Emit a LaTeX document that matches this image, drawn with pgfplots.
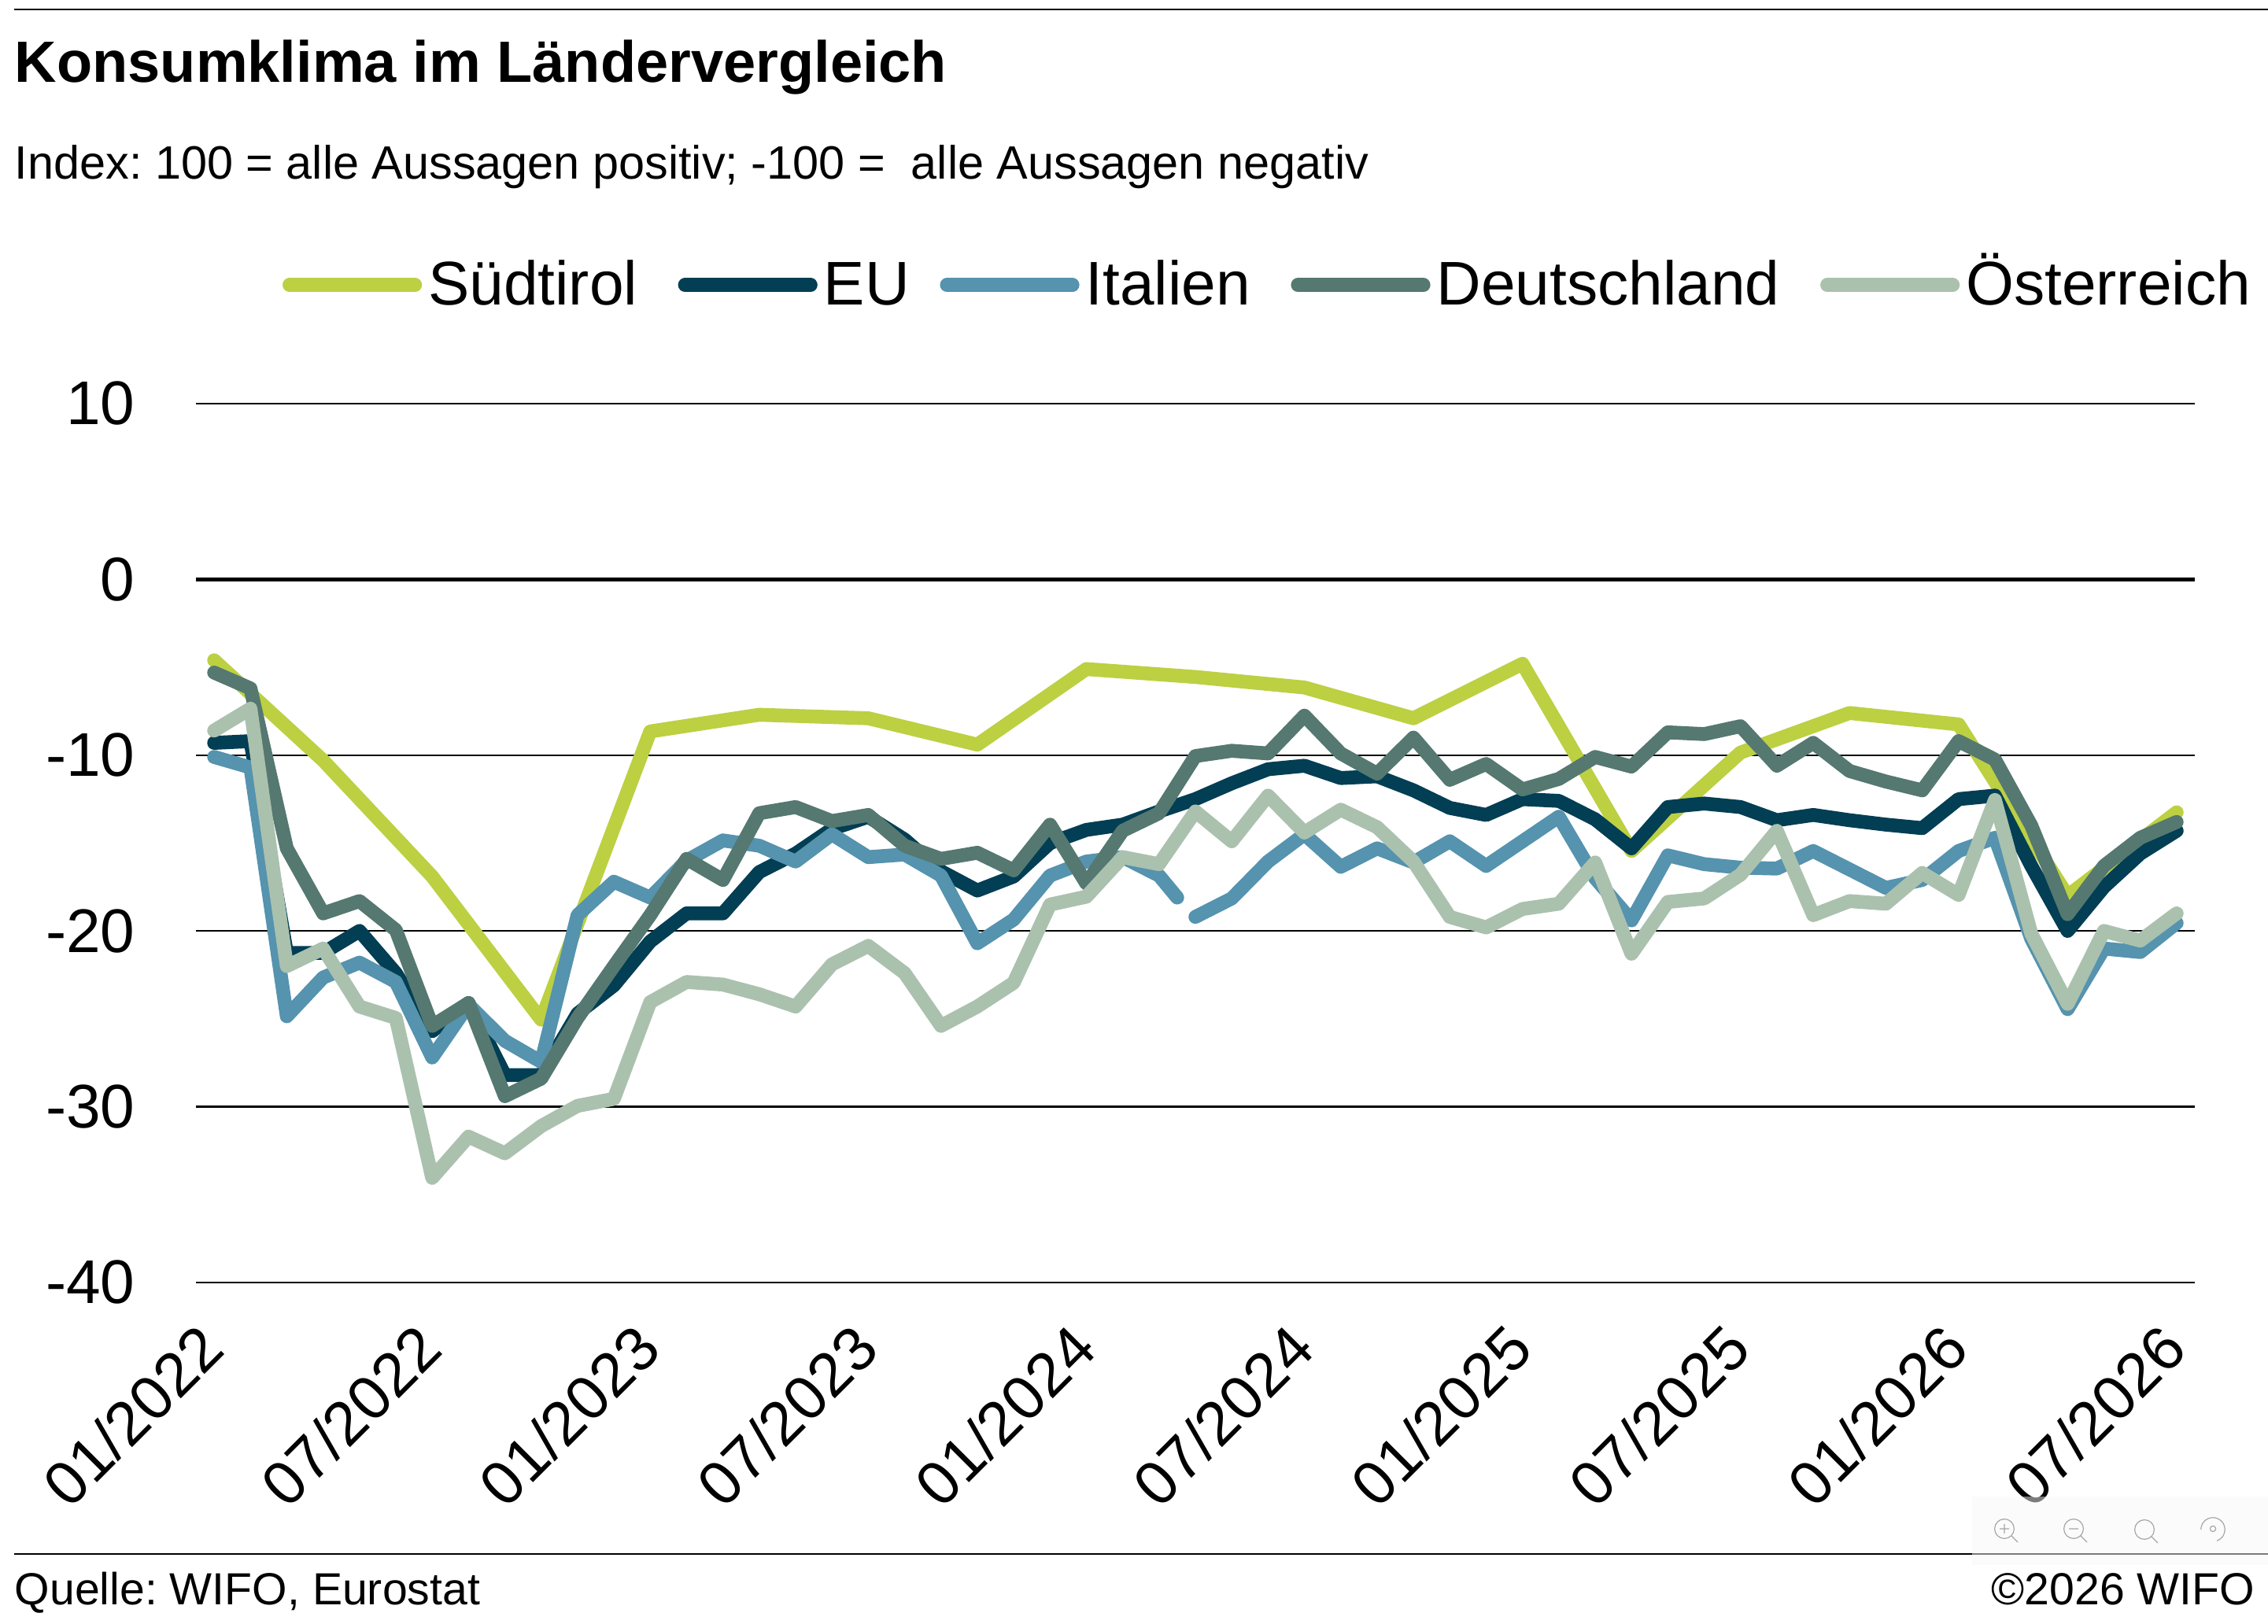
\documentclass[border=0pt]{standalone}
\usepackage{fontspec}
\usepackage{pgfplots}
\pgfplotsset{compat=1.18}
\setmainfont{Liberation Sans}
\frenchspacing
\definecolor{suedtirol}{HTML}{BCD042}
\definecolor{eu}{HTML}{023E54}
\definecolor{italien}{HTML}{5593AE}
\definecolor{deutschland}{HTML}{557870}
\definecolor{oesterreich}{HTML}{AAC1AE}
\newcommand{\fs}[1]{\fontsize{#1}{#1}\selectfont}
\begin{document}
\begin{tikzpicture}
\path[use as bounding box] (0,0) rectangle (720.5pt,516pt);
\begin{axis}[
    at={(62.25pt,108.5pt)}, anchor=south west,
    scale only axis, width=635pt, height=279.25pt,
    xmin=-0.5, xmax=54.5, ymin=-40, ymax=10,
    axis lines=left, axis line style={draw=none}, tick style={draw=none},
    ymajorgrids, grid style={black, line width=0.6pt},
    ytick={-40,-30,-20,-10,0,10},
    yticklabels={-40,-30,-20,-10,0,10},
    yticklabel style={font=\fs{19.6}, anchor=east, xshift=-13.7pt},
    xtick={0,6,...,54},
    xticklabels={01/2022,07/2022,01/2023,07/2023,01/2024,07/2024,01/2025,07/2025,01/2026,07/2026},
    xticklabel style={font=\fs{19.6}, rotate=45, anchor=east, xshift=-7.7pt, yshift=-10.1pt},
    unbounded coords=jump,
    every axis plot/.append style={line width=4.4pt, line cap=round, line join=round},
    legend columns=5,
    legend style={at={(0.043,1.135)}, anchor=west, draw=none, fill=none, inner sep=0pt,
        font=\fs{19.6}, nodes={inner xsep=2pt, inner ysep=0pt, text height=12.8pt, text depth=0pt},
        /tikz/every even column/.append style={column sep=10.9pt}},
    legend cell align=left,
    legend image code/.code={\draw[#1] (0pt,0pt) -- (39.9pt,0pt);},
]
\draw[black, line width=1.3pt] (axis cs:-0.5,0) -- (axis cs:54.5,0);
\addplot[suedtirol] coordinates {(0,-4.6) (3,-10.3) (6,-16.9) (9,-25.05) (12,-8.65) (15,-7.7) (18,-7.9) (21,-9.4) (24,-5.1) (27,-5.55) (30,-6.15) (33,-7.9) (36,-4.8) (39,-15.45) (42,-9.85) (45,-7.6) (48,-8.25) (51,-18) (54,-13.25)};
\addplot[eu] coordinates {(0,-9.3) (1,-9.2) (2,-21.25) (3,-21.25) (4,-20) (5,-22.4) (6,-25.7) (7,-24.1) (8,-28.2) (9,-28.2) (10,-24.7) (11,-23.1) (12,-20.6) (13,-19) (14,-19) (15,-16.65) (16,-15.6) (17,-14.2) (18,-13.5) (19,-14.8) (20,-16.6) (21,-17.7) (22,-16.9) (23,-15) (24,-14.25) (25,-13.95) (26,-13.2) (27,-12.5) (28,-11.6) (29,-10.8) (30,-10.6) (31,-11.3) (32,-11.2) (33,-12) (34,-13) (35,-13.4) (36,-12.5) (37,-12.6) (38,-13.65) (39,-15.3) (40,-12.95) (41,-12.75) (42,-12.95) (43,-13.7) (44,-13.4) (45,-13.7) (46,-13.95) (47,-14.15) (48,-12.5) (49,-12.3) (50,-16.3) (51,-20) (52,-17.5) (53,-15.6) (54,-14.3)};
\addplot[italien] coordinates {(0,-10.1) (1,-10.7) (2,-24.85) (3,-22.65) (4,-21.8) (5,-22.9) (6,-27.2) (7,-24.2) (8,-26.25) (9,-27.45) (10,-19.1) (11,-17.2) (12,-18.1) (13,-16) (14,-14.85) (15,-15.15) (16,-16.05) (17,-14.5) (18,-15.8) (19,-15.65) (20,-16.85) (21,-20.7) (22,-19.35) (23,-16.85) (24,-16.05) (25,-15.8) (26,-16.85) (26.5,-18.1) (26.75,nan) (27,-19.2) (28,-18.15) (29,-16.05) (30,-14.5) (31,-16.35) (32,-15.3) (33,-16.1) (34,-14.9) (35,-16.3) (36,-14.9) (37,-13.5) (38,-17) (39,-19.4) (40,-15.7) (41,-16.2) (42,-16.4) (43,-16.45) (44,-15.45) (45,-16.5) (46,-17.55) (47,-17.1) (48,-15.45) (49,-14.7) (50,-20.45) (51,-24.45) (52,-21) (53,-21.2) (54,-19.55)};
\addplot[deutschland] coordinates {(0,-5.3) (1,-6.2) (2,-15.3) (3,-19) (4,-18.3) (5,-19.95) (6,-25.4) (7,-24.1) (8,-29.4) (9,-28.4) (10,-24.95) (11,-22) (12,-19.1) (13,-15.9) (14,-17.1) (15,-13.3) (16,-12.95) (17,-13.75) (18,-13.4) (19,-15.15) (20,-15.9) (21,-15.55) (22,-16.55) (23,-13.95) (24,-17.3) (25,-14.3) (26,-13.3) (27,-10.05) (28,-9.75) (29,-9.9) (30,-7.75) (31,-9.9) (32,-11.05) (33,-9) (34,-11.4) (35,-10.5) (36,-11.95) (37,-11.35) (38,-10.1) (39,-10.65) (40,-8.7) (41,-8.8) (42,-8.35) (43,-10.6) (44,-9.3) (45,-10.9) (46,-11.5) (47,-12) (48,-9.2) (49,-10.25) (50,-14) (51,-19.05) (52,-16.3) (53,-14.7) (54,-13.8)};
\addplot[oesterreich] coordinates {(0,-8.6) (1,-7.35) (2,-22) (3,-21) (4,-24.3) (5,-24.95) (6,-34.05) (7,-31.7) (8,-32.65) (9,-31.1) (10,-29.95) (11,-29.55) (12,-24.05) (13,-22.9) (14,-23.05) (15,-23.6) (16,-24.3) (17,-21.9) (18,-20.85) (19,-22.4) (20,-25.4) (21,-24.3) (22,-22.95) (23,-18.5) (24,-18.05) (25,-15.8) (26,-16.2) (27,-13.2) (28,-14.9) (29,-12.3) (30,-14.4) (31,-13.1) (32,-14.1) (33,-16.05) (34,-19.2) (35,-19.8) (36,-18.75) (37,-18.45) (38,-16.1) (39,-21.3) (40,-18.35) (41,-18.15) (42,-16.8) (43,-14.3) (44,-19.1) (45,-18.3) (46,-18.45) (47,-16.7) (48,-17.95) (49,-12.55) (50,-20.15) (51,-24.15) (52,-20) (53,-20.55) (54,-19)};
\legend{S\"udtirol,\makebox[24pt][l]{EU},Italien,Deutschland,\"Osterreich}
\end{axis}
% Kopf und Fuss
\draw[black, line width=0.5pt] (4.5pt,513pt) -- (720.5pt,513pt);
\node[anchor=base west, inner sep=0pt, font=\fs{18.5}\bfseries] at (4.5pt,489.75pt) {Konsumklima im L\"andervergleich};
\node[anchor=base west, inner sep=0pt, font=\fs{14.85}] at (4.5pt,459pt) {Index: 100 = alle Aussagen positiv; -100 =~ alle Aussagen negativ};
\draw[black, line width=0.6pt] (4.5pt,22.25pt) -- (720.5pt,22.25pt);
\node[anchor=base west, inner sep=0pt, font=\fs{14.3}] at (4.5pt,6pt) {Quelle: WIFO, Eurostat};
\node[anchor=base east, inner sep=0pt, font=\fs{14.3}] at (716.5pt,6pt) {\textcopyright 2026 WIFO};
% Werkzeugleiste
\fill[white!97!black, opacity=0.5] (626.5pt,18.75pt) rectangle (720.5pt,40.5pt);
\begin{scope}[line width=0.3pt, draw=black!35]
\draw (636.75pt,30.25pt) circle (3.1pt) (639pt,28pt) -- (641pt,26pt) (635.25pt,30.25pt) -- (638.25pt,30.25pt) (636.75pt,28.75pt) -- (636.75pt,31.75pt);
\draw (658.75pt,30.25pt) circle (3.1pt) (661pt,28pt) -- (663pt,26pt) (657.25pt,30.25pt) -- (660.25pt,30.25pt);
\draw (681.25pt,30pt) circle (3.1pt) (683.5pt,27.75pt) -- (685.5pt,25.75pt);
\draw (703pt,30.25pt) circle (0.9pt);
\draw (699.2pt,30pt) arc (180:-70:3.8pt);
\end{scope}
\end{tikzpicture}
\end{document}
